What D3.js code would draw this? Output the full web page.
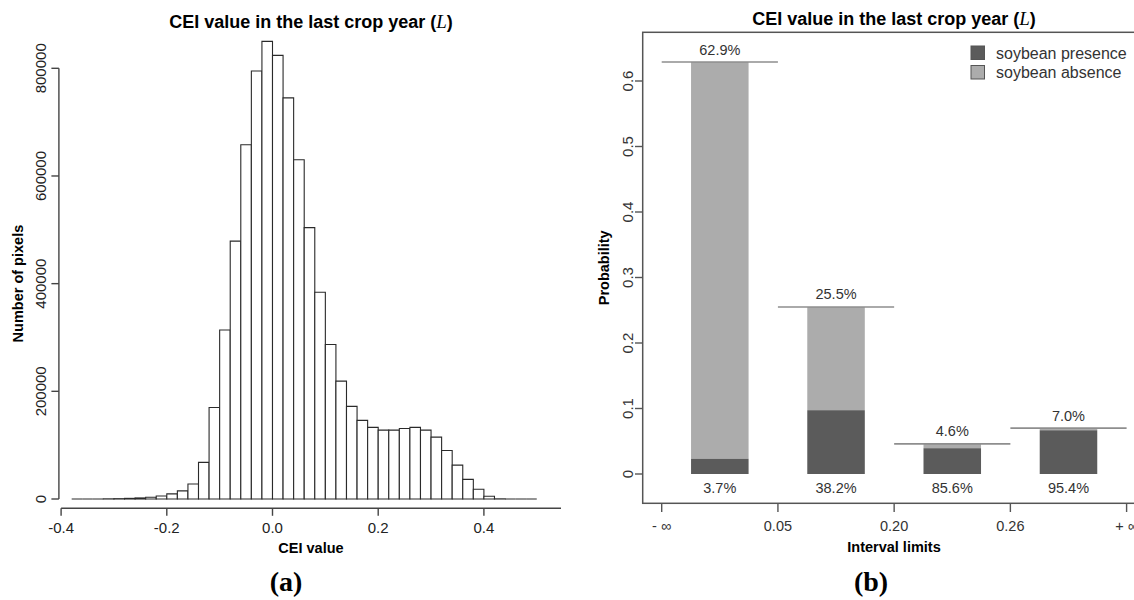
<!DOCTYPE html>
<html>
<head>
<meta charset="utf-8">
<script src="https://cdn.jsdelivr.net/npm/d3@7"></script>
<style>
  body { margin: 0; background: #fff; }
</style>
</head>
<body>
<div id="chart"></div>
<script>
// histogram (a): left edge of each 0.02 bin and the pixel count in it
var binLeft = [-0.38, -0.36, -0.34, -0.32, -0.30, -0.28, -0.26, -0.24, -0.22, -0.20, -0.18,
               -0.16, -0.14, -0.12, -0.10, -0.08, -0.06, -0.04, -0.02, 0.00, 0.02, 0.04,
               0.06, 0.08, 0.10, 0.12, 0.14, 0.16, 0.18, 0.20, 0.22, 0.24, 0.26, 0.28,
               0.30, 0.32, 0.34, 0.36, 0.38, 0.40, 0.42, 0.44, 0.46, 0.48];
var binCount = [0, 0, 0, 300, 600, 1200, 2000, 3200, 5500, 9500, 15000,
                28000, 68000, 170000, 314000, 479000, 658000, 795000, 850000, 824000, 745000, 630000,
                504000, 384000, 287000, 219000, 172000, 146000, 133000, 128000, 128000, 131000, 133000, 128000,
                115000, 90000, 63000, 36500, 18000, 5000, 300, 0, 0, 0];
var binWidth = 0.02;
var histXTicks = [-0.4, -0.2, 0.0, 0.2, 0.4];
var histYTicks = [0, 200000, 400000, 600000, 800000];

// bar chart (b)
var intervalLimits = ["- \u221e", "0.05", "0.20", "0.26", "+ \u221e"];
var intervalProb = [0.629, 0.255, 0.046, 0.070];     // share of pixels in interval
var presenceShare = [0.037, 0.382, 0.856, 0.954];    // share with soybean inside interval
var probTicks = [0, 0.1, 0.2, 0.3, 0.4, 0.5, 0.6];
var legendLabels = ["soybean presence", "soybean absence"];

var darkGrey = "#5b5b5b", lightGrey = "#acacac", inkGrey = "#333";
var serif = "'Liberation Serif', 'Times New Roman', serif";

var svg = d3.select("#chart").append("svg")
    .attr("width", 1134)
    .attr("height", 600)
    .attr("font-family", "'Liberation Sans', Arial, sans-serif");

svg.append("rect").attr("width", 1134).attr("height", 600).attr("fill", "#fff");

// ---------- panel (a) ----------
var xa = d3.scaleLinear().domain([-0.4, 0.4]).range([61.1, 483.9]);
var ya = d3.scaleLinear().domain([0, 800000]).range([499, 68.3]);

var hist = svg.append("g");

// bars as paths so the empty bins still draw their bottom edge
hist.selectAll(".bin")
    .data(binCount)
    .enter()
    .append("path")
    .attr("class", "bin")
    .attr("d", function(d, i){
        var x0 = xa(binLeft[i]), x1 = xa(binLeft[i] + binWidth);
        return "M" + x0 + "," + ya(0) + "V" + ya(d) + "H" + x1 + "V" + ya(0) + "Z";
    })
    .attr("fill", "#fff")
    .attr("stroke", "#2a2a2a")
    .attr("stroke-width", 1.1);

// x axis
var xAxisA = hist.append("g").attr("transform", "translate(0,508.3)");
xAxisA.append("line")
    .attr("x1", xa(-0.4)).attr("x2", 561)
    .attr("stroke", "#444").attr("stroke-width", 1.4);
xAxisA.selectAll(".tk")
    .data(histXTicks)
    .enter().append("line")
    .attr("x1", function(d){ return xa(d); })
    .attr("x2", function(d){ return xa(d); })
    .attr("y1", 0).attr("y2", 7.5)
    .attr("stroke", "#444").attr("stroke-width", 1.4);
xAxisA.selectAll(".lb")
    .data(histXTicks)
    .enter().append("text")
    .attr("x", function(d){ return xa(d); })
    .attr("y", 25)
    .attr("text-anchor", "middle")
    .attr("font-size", "15px")
    .attr("fill", "#222")
    .text(function(d){ return d.toFixed(1).replace("\u2212", "-"); });

// y axis
var yAxisA = hist.append("g").attr("transform", "translate(58.9,0)");
yAxisA.append("line")
    .attr("y1", ya(0)).attr("y2", ya(800000))
    .attr("stroke", "#444").attr("stroke-width", 1.4);
yAxisA.selectAll(".tk")
    .data(histYTicks)
    .enter().append("line")
    .attr("y1", function(d){ return ya(d); })
    .attr("y2", function(d){ return ya(d); })
    .attr("x1", 0).attr("x2", -7.5)
    .attr("stroke", "#444").attr("stroke-width", 1.4);
yAxisA.selectAll(".lb")
    .data(histYTicks)
    .enter().append("text")
    .attr("transform", function(d){ return "translate(-13," + ya(d) + ") rotate(-90)"; })
    .attr("text-anchor", "middle")
    .attr("font-size", "15px")
    .attr("fill", "#222")
    .text(function(d){ return d; });

hist.append("text")
    .attr("transform", "translate(23,283.6) rotate(-90)")
    .attr("text-anchor", "middle")
    .attr("font-size", "14.5px")
    .attr("font-weight", "bold")
    .text("Number of pixels");

hist.append("text")
    .attr("x", 311).attr("y", 552.5)
    .attr("text-anchor", "middle")
    .attr("font-size", "14.5px")
    .attr("font-weight", "bold")
    .text("CEI value");

function addTitle(g, cx, y){
    var t = g.append("text")
        .attr("x", cx).attr("y", y)
        .attr("text-anchor", "middle")
        .attr("font-size", "18px")
        .attr("font-weight", "bold");
    t.append("tspan").text("CEI value in the last crop year (");
    t.append("tspan")
        .attr("font-family", serif)
        .attr("font-style", "italic")
        .attr("font-weight", "normal")
        .attr("font-size", "19px")
        .text("L");
    t.append("tspan").text(")");
}
addTitle(hist, 311, 28.3);

hist.append("text")
    .attr("x", 286).attr("y", 591)
    .attr("text-anchor", "middle")
    .attr("font-family", serif)
    .attr("font-weight", "bold")
    .attr("font-size", "28px")
    .text("(a)");

// ---------- panel (b) ----------
var xb = d3.scalePoint().domain(intervalLimits).range([661.7, 1126.6]);
var yb = d3.scaleLinear().domain([0, 0.6]).range([474, 81]);

var bars = svg.append("g");

bars.append("rect")
    .attr("x", 642.7).attr("y", 32.3)
    .attr("width", 520).attr("height", 503.3 - 32.3)
    .attr("fill", "none")
    .attr("stroke", "#555").attr("stroke-width", 1.5);

var step = xb.step();
var barW = step * 0.495;
function mid(i){ return (xb(intervalLimits[i]) + xb(intervalLimits[i + 1])) / 2; }

var grp = bars.selectAll(".interval")
    .data(intervalProb)
    .enter().append("g")
    .attr("class", "interval");

// absence (upper part)
grp.append("rect")
    .attr("x", function(d, i){ return mid(i) - barW / 2; })
    .attr("width", barW)
    .attr("y", function(d){ return yb(d); })
    .attr("height", function(d, i){ return yb(d * presenceShare[i]) - yb(d); })
    .attr("fill", lightGrey);

// presence (lower part)
grp.append("rect")
    .attr("x", function(d, i){ return mid(i) - barW / 2; })
    .attr("width", barW)
    .attr("y", function(d, i){ return yb(d * presenceShare[i]); })
    .attr("height", function(d, i){ return yb(0) - yb(d * presenceShare[i]); })
    .attr("fill", darkGrey);

// total line across the interval
grp.append("line")
    .attr("x1", function(d, i){ return xb(intervalLimits[i]); })
    .attr("x2", function(d, i){ return xb(intervalLimits[i + 1]); })
    .attr("y1", function(d){ return yb(d); })
    .attr("y2", function(d){ return yb(d); })
    .attr("stroke", "#8e8e8e").attr("stroke-width", 1.6);

grp.append("text")
    .attr("x", function(d, i){ return mid(i); })
    .attr("y", function(d){ return yb(d) - 7.5; })
    .attr("text-anchor", "middle")
    .attr("font-size", "14.5px")
    .attr("fill", inkGrey)
    .text(function(d){ return d3.format(".1%")(d); });

grp.append("text")
    .attr("x", function(d, i){ return mid(i); })
    .attr("y", yb(0) + 18.5)
    .attr("text-anchor", "middle")
    .attr("font-size", "14.5px")
    .attr("fill", inkGrey)
    .text(function(d, i){ return d3.format(".1%")(presenceShare[i]); });

// x ticks (interval limits)
bars.selectAll(".xtk")
    .data(intervalLimits)
    .enter().append("line")
    .attr("x1", function(d){ return xb(d); })
    .attr("x2", function(d){ return xb(d); })
    .attr("y1", 503.3).attr("y2", 512)
    .attr("stroke", "#555").attr("stroke-width", 1.4);
bars.selectAll(".xlb")
    .data(intervalLimits)
    .enter().append("text")
    .attr("x", function(d){ return xb(d); })
    .attr("y", 531)
    .attr("text-anchor", "middle")
    .attr("font-size", "14.5px")
    .attr("fill", inkGrey)
    .text(function(d){ return d; });

// y ticks
bars.selectAll(".ytk")
    .data(probTicks)
    .enter().append("line")
    .attr("y1", function(d){ return yb(d); })
    .attr("y2", function(d){ return yb(d); })
    .attr("x1", 642.7).attr("x2", 635)
    .attr("stroke", "#555").attr("stroke-width", 1.4);
bars.selectAll(".ylb")
    .data(probTicks)
    .enter().append("text")
    .attr("transform", function(d){ return "translate(633," + yb(d) + ") rotate(-90)"; })
    .attr("text-anchor", "middle")
    .attr("font-size", "15px")
    .attr("fill", inkGrey)
    .text(function(d){ return d; });

bars.append("text")
    .attr("transform", "translate(609,267.8) rotate(-90)")
    .attr("text-anchor", "middle")
    .attr("font-size", "14.5px")
    .attr("font-weight", "bold")
    .text("Probability");

bars.append("text")
    .attr("x", 894).attr("y", 551.5)
    .attr("text-anchor", "middle")
    .attr("font-size", "14.5px")
    .attr("font-weight", "bold")
    .text("Interval limits");

addTitle(bars, 894, 25);

// legend
var leg = bars.selectAll(".leg")
    .data(legendLabels)
    .enter().append("g")
    .attr("class", "leg")
    .attr("transform", function(d, i){ return "translate(971," + (46 + i * 19.5) + ")"; });
leg.append("rect")
    .attr("width", 13.5).attr("height", 13.5)
    .attr("fill", function(d, i){ return i === 0 ? darkGrey : lightGrey; })
    .attr("stroke", "#555").attr("stroke-width", 1);
leg.append("text")
    .attr("x", 25).attr("y", 12.5)
    .attr("font-size", "16px")
    .attr("fill", inkGrey)
    .text(function(d){ return d; });

bars.append("text")
    .attr("x", 871).attr("y", 591)
    .attr("text-anchor", "middle")
    .attr("font-family", serif)
    .attr("font-weight", "bold")
    .attr("font-size", "28px")
    .text("(b)");
</script>
</body>
</html>
